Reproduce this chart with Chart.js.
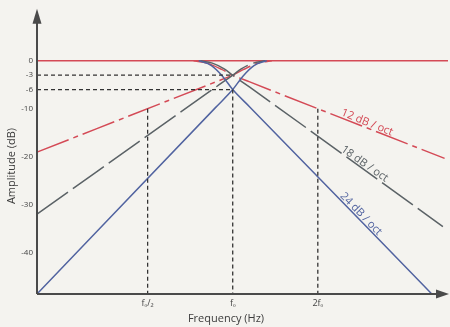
<!DOCTYPE html>
<html>
<head>
<meta charset="utf-8">
<script src="https://cdn.jsdelivr.net/npm/chart.js@4.4.0/dist/chart.umd.min.js"></script>
<style>
html, body { margin: 0; padding: 0; background: #f4f3ef; }
canvas { display: block; }
</style>
</head>
<body>
<canvas id="myChart" width="450" height="327"></canvas>
<script>
// x = octaves relative to fo, y = amplitude in dB
var xTickValues = [-1, 0, 1];
var xTickLabels = ['fₒ/₂', 'fₒ', '2fₒ'];
var yTickValues = [0, -3, -6, -10, -20, -30, -40];

var flatX = [-2.3, 2.53];
var flatY = [0, 0];

// 12 dB/oct (red)
var red12LowX = [-0.46, -0.3, -0.13, 0, 0.2, 2.49];
var red12LowY = [0, -0.5, -1.8, -3, -4.4, -20.3];
var red12HighX = [-2.3, -0.2, 0, 0.13, 0.3, 0.46];
var red12HighY = [-19, -4.4, -3, -1.8, -0.5, 0];

// 18 dB/oct (grey)
var grey18LowX = [-0.38, -0.24, -0.1, 0, 0.2, 2.47];
var grey18LowY = [0, -0.5, -1.7, -3, -5.5, -34.5];
var grey18HighX = [-2.3, -0.2, 0, 0.1, 0.24, 0.38];
var grey18HighY = [-31.9, -5.5, -3, -1.7, -0.5, 0];

// 24 dB/oct (blue)
var blue24LowX = [-0.4, -0.25, -0.12, 0, 0.2, 2.34];
var blue24LowY = [0, -1, -3.2, -6, -9.6, -48.5];
var blue24HighX = [-2.3, -0.2, 0, 0.12, 0.25, 0.4];
var blue24HighY = [-48.5, -9.7, -6, -3.2, -1, 0];

// dashed guide lines
var guideMinus3X = [-2.3, 0], guideMinus3Y = [-3, -3];
var guideMinus6X = [-2.3, 0], guideMinus6Y = [-6, -6];
var guideHalfX = [-1, -1], guideHalfY = [-10, -48.5];
var guideFoX = [0, 0], guideFoY = [-6, -48.5];
var guideTwoX = [1, 1], guideTwoY = [-10, -48.5];

var slopeLabels = ['12 dB / oct', '18 dB / oct', '24 dB / oct'];
var slopeLabelX = [1.56, 1.52, 1.47];
var slopeLabelY = [-13.7, -22.2, -32.5];
var slopeLabelAngle = [22, 35, 46];

var redCol = '#d44a56';
var greyCol = '#5b6266';
var blueCol = '#5163a0';
var guideCol = '#333333';

function pts(xs, ys) {
    return xs.map(function (x, i) { return { x: x, y: ys[i] }; });
}

function curve(xs, ys, color, dash) {
    return {
        data: pts(xs, ys),
        borderColor: color,
        borderWidth: 1.5,
        borderDash: dash,
        pointRadius: 0,
        cubicInterpolationMode: 'monotone',
        fill: false,
        clip: 4
    };
}

function guide(xs, ys) {
    return {
        data: pts(xs, ys),
        borderColor: guideCol,
        borderWidth: 1.3,
        borderDash: [4, 3],
        pointRadius: 0,
        fill: false,
        clip: 4
    };
}

var bgPlugin = {
    id: 'bg',
    beforeDraw: function (chart) {
        var c = chart.ctx;
        c.save();
        c.fillStyle = '#f4f3ef';
        c.fillRect(0, 0, chart.width, chart.height);
        c.restore();
    }
};

var axesPlugin = {
    id: 'axesArrows',
    afterDatasetsDraw: function (chart) {
        var c = chart.ctx;
        var a = chart.chartArea;
        var xs = chart.scales.x, ys = chart.scales.y;
        c.save();
        // axes
        c.strokeStyle = '#4a4a4a';
        c.fillStyle = '#4a4a4a';
        c.lineWidth = 2;
        c.beginPath();
        c.moveTo(a.left, a.bottom);
        c.lineTo(a.left, a.top + 12);
        c.moveTo(a.left, a.bottom);
        c.lineTo(a.right - 10, a.bottom);
        c.stroke();
        c.beginPath();
        c.moveTo(a.left, a.top);
        c.lineTo(a.left - 4.5, a.top + 15);
        c.lineTo(a.left + 4.5, a.top + 15);
        c.closePath();
        c.fill();
        c.beginPath();
        c.moveTo(a.right + 1, a.bottom);
        c.lineTo(a.right - 12, a.bottom - 4.5);
        c.lineTo(a.right - 12, a.bottom + 4.5);
        c.closePath();
        c.fill();

        // slope labels
        var cols = [redCol, greyCol, blueCol];
        c.font = '11px "Open Sans"';
        c.textAlign = 'center';
        c.textBaseline = 'bottom';
        slopeLabels.forEach(function (t, i) {
            c.save();
            c.translate(xs.getPixelForValue(slopeLabelX[i]), ys.getPixelForValue(slopeLabelY[i]));
            c.rotate(slopeLabelAngle[i] * Math.PI / 180);
            c.fillStyle = cols[i];
            c.fillText(t, 0, 1);
            c.restore();
        });

        // axis titles
        c.fillStyle = '#3c3c3c';
        c.font = '11px "Open Sans"';
        c.textBaseline = 'middle';
        c.fillText('Frequency (Hz)', 226, 319);
        c.save();
        c.translate(12, 166);
        c.rotate(-Math.PI / 2);
        c.fillText('Amplitude (dB)', 0, 0);
        c.restore();
        c.restore();
    }
};

var ctx = document.getElementById('myChart').getContext('2d');
var myChart = new Chart(ctx, {
    type: 'line',
    data: {
        datasets: [
            guide(guideMinus3X, guideMinus3Y),
            guide(guideMinus6X, guideMinus6Y),
            guide(guideHalfX, guideHalfY),
            guide(guideFoX, guideFoY),
            guide(guideTwoX, guideTwoY),
            curve(blue24LowX, blue24LowY, blueCol, []),
            curve(blue24HighX, blue24HighY, blueCol, []),
            curve(grey18LowX, grey18LowY, greyCol, [38, 6]),
            curve(grey18HighX, grey18HighY, greyCol, [38, 6]),
            curve(red12LowX, red12LowY, redCol, [34, 5, 5, 5]),
            curve(red12HighX, red12HighY, redCol, [34, 5, 5, 5]),
            curve(flatX, flatY, redCol, [])
        ]
    },
    options: {
        responsive: false,
        animation: false,
        devicePixelRatio: 1,
        layout: { padding: { top: 8, right: 2, left: 0, bottom: 0 } },
        plugins: {
            legend: { display: false },
            tooltip: { enabled: false }
        },
        scales: {
            x: {
                type: 'linear',
                min: -2.3,
                max: 2.53,
                grid: { display: false, drawTicks: false },
                border: { display: false },
                afterFit: function (scale) { scale.height = 33; },
                afterBuildTicks: function (scale) {
                    scale.ticks = xTickValues.map(function (v) { return { value: v }; });
                },
                ticks: {
                    autoSkip: false,
                    maxRotation: 0,
                    padding: 4,
                    color: '#444',
                    font: { family: 'Open Sans', size: 9 },
                    callback: function (value) {
                        return xTickLabels[xTickValues.indexOf(value)];
                    }
                }
            },
            y: {
                type: 'linear',
                min: -48.5,
                max: 10.8,
                grid: { display: false, drawTicks: false },
                border: { display: false },
                afterFit: function (scale) { scale.width = 37; },
                afterBuildTicks: function (scale) {
                    scale.ticks = yTickValues.map(function (v) { return { value: v }; });
                },
                ticks: {
                    autoSkip: false,
                    padding: 4,
                    color: '#444',
                    font: { family: 'Open Sans', size: 8 },
                    callback: function (value) { return String(value); }
                }
            }
        }
    },
    plugins: [bgPlugin, axesPlugin]
});
</script>
</body>
</html>
